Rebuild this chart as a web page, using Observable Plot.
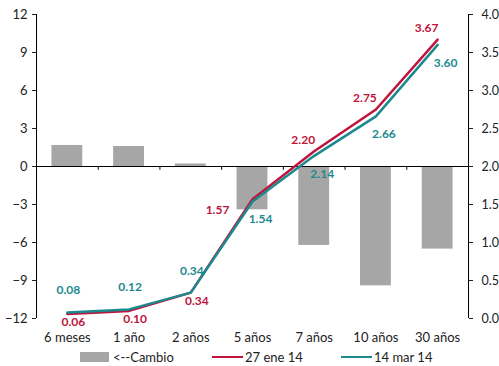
<!DOCTYPE html>
<html>
<head>
<meta charset="utf-8">
<script src="https://cdn.jsdelivr.net/npm/d3@7"></script>
<script src="https://cdn.jsdelivr.net/npm/@observablehq/plot@0.6"></script>
<style>
  body { margin: 0; background: #fff; font-family: Lato, "Open Sans", sans-serif; }
  #wrap { width: 499px; height: 366px; position: relative; }
  .legend { position: absolute; top: 348px; left: 0; width: 499px; height: 18px; font-size: 13px; color: #222; }
  .legend span.item { position: absolute; top: 0; display: flex; align-items: center; height: 18px; }
  .sw-bar { display: inline-block; width: 29px; height: 10px; background: #a6a6a6; margin-right: 4px; }
  .sw-line { display: inline-block; width: 31px; height: 2.5px; margin-right: 2px; }
</style>
</head>
<body>
<div id="wrap"><div id="chart"></div>
<div class="legend">
  <span class="item" style="left:80px"><span class="sw-bar"></span>&lt;--Cambio</span>
  <span class="item" style="left:212px"><span class="sw-line" style="background:#c0143c"></span>27 ene 14</span>
  <span class="item" style="left:341px"><span class="sw-line" style="background:#1b8a8f"></span>14 mar 14</span>
</div>
</div>
<script>
// Data
const categories = ["6 meses", "1 año", "2 años", "5 años", "7 años", "10 años", "30 años"];
const cambio = [1.66, 1.58, 0.2, -3.42, -6.23, -9.42, -6.52];   // left axis (bp)
const ene27 = [0.06, 0.10, 0.34, 1.57, 2.20, 2.75, 3.67];      // right axis (%)
const mar14 = [0.08, 0.12, 0.34, 1.54, 2.14, 2.66, 3.60];      // right axis (%)
const leftTicks = [-12, -9, -6, -3, 0, 3, 6, 9, 12];
const rightTicks = [0, 0.5, 1, 1.5, 2, 2.5, 3, 3.5, 4];
const enePlace = ["below", "below", "below", "belowleft", "aboveleft", "aboveleft", "aboveleft"];
const marPlace = ["above", "above", "above", "belowright", "belowright", "belowright", "belowright"];

const RED = "#c0143c", TEAL = "#1b8a8f", GREY = "#a6a6a6";
// right axis (0..4) mapped onto left axis (-12..12)
const toLeft = v => v * 6 - 12;
const fromLeft = y => (y + 12) / 6;

const offsets = {
  above: [1, -22], below: [6, 8], belowleft: [-35, 11],
  aboveleft: [-11, -11], belowright: [8, 18]
};

const bars = categories.map((c, i) => ({i, c, v: cambio[i]}));
const eneData = categories.map((c, i) => ({i, c, v: ene27[i], p: enePlace[i]}));
const marData = categories.map((c, i) => ({i, c, v: mar14[i], p: marPlace[i]}));
const boundaries = d3.range(categories.length + 1).map(k => k - 0.5);

function labels(data, color) {
  return Object.keys(offsets).map(k => Plot.text(data.filter(d => d.p === k), {
    x: "i", y: d => toLeft(d.v), text: d => d.v.toFixed(2),
    dx: offsets[k][0], dy: offsets[k][1],
    fill: color, fontWeight: "bold", fontSize: 12
  }));
}

const chart = Plot.plot({
  width: 499,
  height: 346,
  marginLeft: 36,
  marginRight: 31,
  marginTop: 14,
  marginBottom: 28,
  style: {fontFamily: "Lato, 'Open Sans', sans-serif", fontSize: "13px", color: "#222", background: "#fff"},
  x: {type: "linear", domain: [-0.5, categories.length - 0.5]},
  y: {domain: [-12, 12]},
  marks: [
    Plot.rectY(bars, {x1: d => d.i - 0.25, x2: d => d.i + 0.25, y1: 0, y2: "v", fill: GREY}),
    Plot.ruleY([0], {stroke: "#000", strokeWidth: 1}),
    Plot.ruleX(boundaries, {y1: 0, y2: -0.3, stroke: "#000"}),
    Plot.axisY({anchor: "left", ticks: leftTicks, tickSize: 4, tickPadding: 5, label: null, fontSize: 13}),
    Plot.ruleX([-0.5], {stroke: "#000"}),
    Plot.axisY({anchor: "right", ticks: rightTicks.map(toLeft), tickFormat: y => fromLeft(y).toFixed(1), tickSize: 4, tickPadding: 9, label: null, fontSize: 12.5}),
    Plot.ruleX([categories.length - 0.5], {stroke: "#000"}),
    Plot.axisX({ticks: d3.range(categories.length), tickFormat: i => categories[i], tickSize: 0, tickPadding: 14, label: null, fontSize: 13}),
    Plot.line(eneData, {x: "i", y: d => toLeft(d.v), stroke: RED, strokeWidth: 2.5}),
    Plot.line(marData, {x: "i", y: d => toLeft(d.v), stroke: TEAL, strokeWidth: 2.5}),
    ...labels(eneData, RED),
    ...labels(marData, TEAL)
  ]
});
document.getElementById("chart").appendChild(chart);
</script>
</body>
</html>
